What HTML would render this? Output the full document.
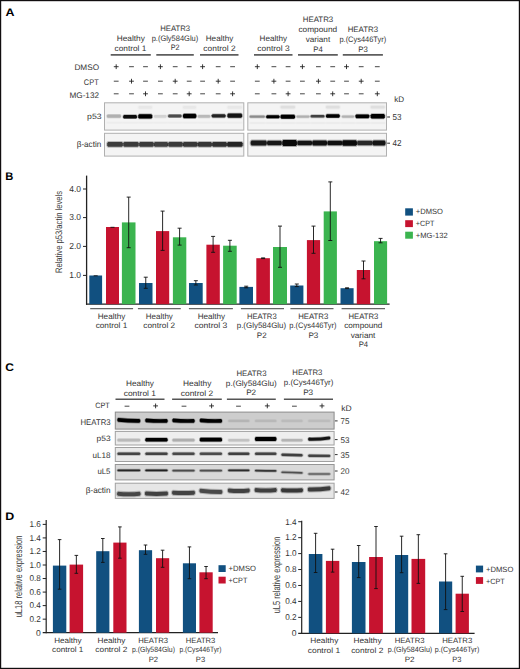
<!DOCTYPE html>
<html><head><meta charset="utf-8"><style>
html,body{margin:0;padding:0;background:#fff;}
body{width:520px;height:669px;overflow:hidden;}
svg{display:block;font-family:"Liberation Sans", sans-serif;}
text{text-rendering:geometricPrecision;}
</style></head><body>
<svg width="520" height="669" viewBox="0 0 520 669">
<defs>
<linearGradient id="vg" x1="0" y1="0" x2="0" y2="1"><stop offset="0" stop-color="#000" stop-opacity="0"/><stop offset="0.3" stop-color="#000" stop-opacity="1"/><stop offset="0.7" stop-color="#000" stop-opacity="1"/><stop offset="1" stop-color="#000" stop-opacity="0"/></linearGradient>
</defs>
<rect x="0" y="0" width="520" height="669" fill="#fff"/>
<text x="10.00" y="15.60" font-size="11" text-anchor="middle" textLength="8.99" lengthAdjust="spacingAndGlyphs" fill="#000" font-weight="bold">A</text>
<text x="130.80" y="41.25" font-size="7.92" text-anchor="middle" textLength="28.11" lengthAdjust="spacingAndGlyphs" fill="#333" font-weight="normal">Healthy</text>
<text x="130.45" y="50.70" font-size="7.92" text-anchor="middle" textLength="31.81" lengthAdjust="spacingAndGlyphs" fill="#333" font-weight="normal">control 1</text>
<text x="175.20" y="30.80" font-size="7.92" text-anchor="middle" textLength="29.91" lengthAdjust="spacingAndGlyphs" fill="#333" font-weight="normal">HEATR3</text>
<text x="174.95" y="40.50" font-size="7.92" text-anchor="middle" textLength="46.61" lengthAdjust="spacingAndGlyphs" fill="#333" font-weight="normal">p.(Gly584Glu)</text>
<text x="175.15" y="49.90" font-size="7.92" text-anchor="middle" textLength="8.81" lengthAdjust="spacingAndGlyphs" fill="#333" font-weight="normal">P2</text>
<text x="219.55" y="41.10" font-size="7.92" text-anchor="middle" textLength="27.61" lengthAdjust="spacingAndGlyphs" fill="#333" font-weight="normal">Healthy</text>
<text x="219.45" y="50.70" font-size="7.92" text-anchor="middle" textLength="32.21" lengthAdjust="spacingAndGlyphs" fill="#333" font-weight="normal">control 2</text>
<text x="273.30" y="41.25" font-size="7.92" text-anchor="middle" textLength="27.51" lengthAdjust="spacingAndGlyphs" fill="#333" font-weight="normal">Healthy</text>
<text x="273.45" y="50.70" font-size="7.92" text-anchor="middle" textLength="32.21" lengthAdjust="spacingAndGlyphs" fill="#333" font-weight="normal">control 3</text>
<text x="318.00" y="21.80" font-size="7.92" text-anchor="middle" textLength="30.51" lengthAdjust="spacingAndGlyphs" fill="#333" font-weight="normal">HEATR3</text>
<text x="317.80" y="31.50" font-size="7.92" text-anchor="middle" textLength="38.71" lengthAdjust="spacingAndGlyphs" fill="#333" font-weight="normal">compound</text>
<text x="317.90" y="41.80" font-size="7.92" text-anchor="middle" textLength="24.51" lengthAdjust="spacingAndGlyphs" fill="#333" font-weight="normal">variant</text>
<text x="318.05" y="52.20" font-size="7.92" text-anchor="middle" textLength="9.41" lengthAdjust="spacingAndGlyphs" fill="#333" font-weight="normal">P4</text>
<text x="362.85" y="31.90" font-size="7.92" text-anchor="middle" textLength="30.41" lengthAdjust="spacingAndGlyphs" fill="#333" font-weight="normal">HEATR3</text>
<text x="362.80" y="41.70" font-size="7.92" text-anchor="middle" textLength="46.71" lengthAdjust="spacingAndGlyphs" fill="#333" font-weight="normal">p.(Cys446Tyr)</text>
<text x="363.10" y="51.80" font-size="7.92" text-anchor="middle" textLength="9.51" lengthAdjust="spacingAndGlyphs" fill="#333" font-weight="normal">P3</text>
<line x1="110.7" y1="54.9" x2="150.8" y2="54.9" stroke="#5e5e5e" stroke-width="1.7"/>
<line x1="156.3" y1="54.9" x2="193.8" y2="54.9" stroke="#5e5e5e" stroke-width="1.7"/>
<line x1="200" y1="54.9" x2="238.5" y2="54.9" stroke="#5e5e5e" stroke-width="1.7"/>
<line x1="254" y1="54.9" x2="292.5" y2="54.9" stroke="#5e5e5e" stroke-width="1.7"/>
<line x1="298" y1="54.9" x2="337.8" y2="54.9" stroke="#5e5e5e" stroke-width="1.7"/>
<line x1="342.8" y1="54.9" x2="382.9" y2="54.9" stroke="#5e5e5e" stroke-width="1.7"/>
<text x="86.75" y="70.00" font-size="8.13" text-anchor="middle" textLength="24.63" lengthAdjust="spacingAndGlyphs" fill="#333" font-weight="normal">DMSO</text>
<text x="91.25" y="84.80" font-size="8.13" text-anchor="middle" textLength="14.83" lengthAdjust="spacingAndGlyphs" fill="#333" font-weight="normal">CPT</text>
<text x="84.25" y="97.90" font-size="8.13" text-anchor="middle" textLength="29.63" lengthAdjust="spacingAndGlyphs" fill="#333" font-weight="normal">MG-132</text>
<line x1="113.8" y1="66.7" x2="118.60000000000001" y2="66.7" stroke="#222" stroke-width="0.9"/>
<line x1="116.2" y1="64.3" x2="116.2" y2="69.10000000000001" stroke="#222" stroke-width="0.9"/>
<line x1="113.8" y1="81.2" x2="118.60000000000001" y2="81.2" stroke="#333" stroke-width="0.9"/>
<line x1="113.8" y1="93.8" x2="118.60000000000001" y2="93.8" stroke="#333" stroke-width="0.9"/>
<line x1="129.1" y1="66.7" x2="133.9" y2="66.7" stroke="#333" stroke-width="0.9"/>
<line x1="129.1" y1="81.2" x2="133.9" y2="81.2" stroke="#222" stroke-width="0.9"/>
<line x1="131.5" y1="78.8" x2="131.5" y2="83.60000000000001" stroke="#222" stroke-width="0.9"/>
<line x1="129.1" y1="93.8" x2="133.9" y2="93.8" stroke="#333" stroke-width="0.9"/>
<line x1="143.1" y1="66.7" x2="147.9" y2="66.7" stroke="#333" stroke-width="0.9"/>
<line x1="143.1" y1="81.2" x2="147.9" y2="81.2" stroke="#333" stroke-width="0.9"/>
<line x1="143.1" y1="93.8" x2="147.9" y2="93.8" stroke="#222" stroke-width="0.9"/>
<line x1="145.5" y1="91.39999999999999" x2="145.5" y2="96.2" stroke="#222" stroke-width="0.9"/>
<line x1="158.0" y1="66.7" x2="162.8" y2="66.7" stroke="#222" stroke-width="0.9"/>
<line x1="160.4" y1="64.3" x2="160.4" y2="69.10000000000001" stroke="#222" stroke-width="0.9"/>
<line x1="158.0" y1="81.2" x2="162.8" y2="81.2" stroke="#333" stroke-width="0.9"/>
<line x1="158.0" y1="93.8" x2="162.8" y2="93.8" stroke="#333" stroke-width="0.9"/>
<line x1="172.79999999999998" y1="66.7" x2="177.6" y2="66.7" stroke="#333" stroke-width="0.9"/>
<line x1="172.79999999999998" y1="81.2" x2="177.6" y2="81.2" stroke="#222" stroke-width="0.9"/>
<line x1="175.2" y1="78.8" x2="175.2" y2="83.60000000000001" stroke="#222" stroke-width="0.9"/>
<line x1="172.79999999999998" y1="93.8" x2="177.6" y2="93.8" stroke="#333" stroke-width="0.9"/>
<line x1="186.79999999999998" y1="66.7" x2="191.6" y2="66.7" stroke="#333" stroke-width="0.9"/>
<line x1="186.79999999999998" y1="81.2" x2="191.6" y2="81.2" stroke="#333" stroke-width="0.9"/>
<line x1="186.79999999999998" y1="93.8" x2="191.6" y2="93.8" stroke="#222" stroke-width="0.9"/>
<line x1="189.2" y1="91.39999999999999" x2="189.2" y2="96.2" stroke="#222" stroke-width="0.9"/>
<line x1="200.2" y1="66.7" x2="205.0" y2="66.7" stroke="#222" stroke-width="0.9"/>
<line x1="202.6" y1="64.3" x2="202.6" y2="69.10000000000001" stroke="#222" stroke-width="0.9"/>
<line x1="200.2" y1="81.2" x2="205.0" y2="81.2" stroke="#333" stroke-width="0.9"/>
<line x1="200.2" y1="93.8" x2="205.0" y2="93.8" stroke="#333" stroke-width="0.9"/>
<line x1="215.79999999999998" y1="66.7" x2="220.6" y2="66.7" stroke="#333" stroke-width="0.9"/>
<line x1="215.79999999999998" y1="81.2" x2="220.6" y2="81.2" stroke="#222" stroke-width="0.9"/>
<line x1="218.2" y1="78.8" x2="218.2" y2="83.60000000000001" stroke="#222" stroke-width="0.9"/>
<line x1="215.79999999999998" y1="93.8" x2="220.6" y2="93.8" stroke="#333" stroke-width="0.9"/>
<line x1="230.2" y1="66.7" x2="235.0" y2="66.7" stroke="#333" stroke-width="0.9"/>
<line x1="230.2" y1="81.2" x2="235.0" y2="81.2" stroke="#333" stroke-width="0.9"/>
<line x1="230.2" y1="93.8" x2="235.0" y2="93.8" stroke="#222" stroke-width="0.9"/>
<line x1="232.6" y1="91.39999999999999" x2="232.6" y2="96.2" stroke="#222" stroke-width="0.9"/>
<line x1="254.9" y1="66.7" x2="259.7" y2="66.7" stroke="#222" stroke-width="0.9"/>
<line x1="257.3" y1="64.3" x2="257.3" y2="69.10000000000001" stroke="#222" stroke-width="0.9"/>
<line x1="254.9" y1="81.2" x2="259.7" y2="81.2" stroke="#333" stroke-width="0.9"/>
<line x1="254.9" y1="93.8" x2="259.7" y2="93.8" stroke="#333" stroke-width="0.9"/>
<line x1="271.5" y1="66.7" x2="276.29999999999995" y2="66.7" stroke="#333" stroke-width="0.9"/>
<line x1="271.5" y1="81.2" x2="276.29999999999995" y2="81.2" stroke="#222" stroke-width="0.9"/>
<line x1="273.9" y1="78.8" x2="273.9" y2="83.60000000000001" stroke="#222" stroke-width="0.9"/>
<line x1="271.5" y1="93.8" x2="276.29999999999995" y2="93.8" stroke="#333" stroke-width="0.9"/>
<line x1="285.70000000000005" y1="66.7" x2="290.5" y2="66.7" stroke="#333" stroke-width="0.9"/>
<line x1="285.70000000000005" y1="81.2" x2="290.5" y2="81.2" stroke="#333" stroke-width="0.9"/>
<line x1="285.70000000000005" y1="93.8" x2="290.5" y2="93.8" stroke="#222" stroke-width="0.9"/>
<line x1="288.1" y1="91.39999999999999" x2="288.1" y2="96.2" stroke="#222" stroke-width="0.9"/>
<line x1="300.0" y1="66.7" x2="304.79999999999995" y2="66.7" stroke="#222" stroke-width="0.9"/>
<line x1="302.4" y1="64.3" x2="302.4" y2="69.10000000000001" stroke="#222" stroke-width="0.9"/>
<line x1="300.0" y1="81.2" x2="304.79999999999995" y2="81.2" stroke="#333" stroke-width="0.9"/>
<line x1="300.0" y1="93.8" x2="304.79999999999995" y2="93.8" stroke="#333" stroke-width="0.9"/>
<line x1="316.0" y1="66.7" x2="320.79999999999995" y2="66.7" stroke="#333" stroke-width="0.9"/>
<line x1="316.0" y1="81.2" x2="320.79999999999995" y2="81.2" stroke="#222" stroke-width="0.9"/>
<line x1="318.4" y1="78.8" x2="318.4" y2="83.60000000000001" stroke="#222" stroke-width="0.9"/>
<line x1="316.0" y1="93.8" x2="320.79999999999995" y2="93.8" stroke="#333" stroke-width="0.9"/>
<line x1="330.3" y1="66.7" x2="335.09999999999997" y2="66.7" stroke="#333" stroke-width="0.9"/>
<line x1="330.3" y1="81.2" x2="335.09999999999997" y2="81.2" stroke="#333" stroke-width="0.9"/>
<line x1="330.3" y1="93.8" x2="335.09999999999997" y2="93.8" stroke="#222" stroke-width="0.9"/>
<line x1="332.7" y1="91.39999999999999" x2="332.7" y2="96.2" stroke="#222" stroke-width="0.9"/>
<line x1="344.1" y1="66.7" x2="348.9" y2="66.7" stroke="#222" stroke-width="0.9"/>
<line x1="346.5" y1="64.3" x2="346.5" y2="69.10000000000001" stroke="#222" stroke-width="0.9"/>
<line x1="344.1" y1="81.2" x2="348.9" y2="81.2" stroke="#333" stroke-width="0.9"/>
<line x1="344.1" y1="93.8" x2="348.9" y2="93.8" stroke="#333" stroke-width="0.9"/>
<line x1="358.8" y1="66.7" x2="363.59999999999997" y2="66.7" stroke="#333" stroke-width="0.9"/>
<line x1="358.8" y1="81.2" x2="363.59999999999997" y2="81.2" stroke="#222" stroke-width="0.9"/>
<line x1="361.2" y1="78.8" x2="361.2" y2="83.60000000000001" stroke="#222" stroke-width="0.9"/>
<line x1="358.8" y1="93.8" x2="363.59999999999997" y2="93.8" stroke="#333" stroke-width="0.9"/>
<line x1="374.90000000000003" y1="66.7" x2="379.7" y2="66.7" stroke="#333" stroke-width="0.9"/>
<line x1="374.90000000000003" y1="81.2" x2="379.7" y2="81.2" stroke="#333" stroke-width="0.9"/>
<line x1="374.90000000000003" y1="93.8" x2="379.7" y2="93.8" stroke="#222" stroke-width="0.9"/>
<line x1="377.3" y1="91.39999999999999" x2="377.3" y2="96.2" stroke="#222" stroke-width="0.9"/>
<text x="399.20" y="101.80" font-size="8.03" text-anchor="middle" textLength="9.92" lengthAdjust="spacingAndGlyphs" fill="#333" font-weight="normal">kD</text>
<rect x="104.50" y="102.80" width="139.30" height="27.30" fill="#f4f4f4" stroke="#b0b0b0" stroke-width="1"/>
<rect x="104.50" y="133.30" width="139.30" height="22.80" fill="#f4f4f4" stroke="#b0b0b0" stroke-width="1"/>
<rect x="247.80" y="102.80" width="138.70" height="27.30" fill="#f4f4f4" stroke="#b0b0b0" stroke-width="1"/>
<rect x="247.80" y="133.30" width="138.70" height="22.80" fill="#f4f4f4" stroke="#b0b0b0" stroke-width="1"/>
<path d="M138.50,106.83 L139.40,106.10 Q145.25,106.10 151.10,106.10 L152.00,106.83 L152.00,107.97 L151.10,108.70 Q145.25,108.70 139.40,108.70 L138.50,107.97 Z" fill="#000" opacity="0.045" stroke="#000" stroke-opacity="0.32" stroke-width="2.00" stroke-linejoin="round"/>
<path d="M183.00,106.83 L183.90,106.10 Q189.50,106.10 195.10,106.10 L196.00,106.83 L196.00,107.97 L195.10,108.70 Q189.50,108.70 183.90,108.70 L183.00,107.97 Z" fill="#000" opacity="0.045" stroke="#000" stroke-opacity="0.32" stroke-width="2.00" stroke-linejoin="round"/>
<path d="M227.50,106.83 L228.40,106.10 Q234.75,106.10 241.10,106.10 L242.00,106.83 L242.00,107.97 L241.10,108.70 Q234.75,108.70 228.40,108.70 L227.50,107.97 Z" fill="#000" opacity="0.045" stroke="#000" stroke-opacity="0.32" stroke-width="2.00" stroke-linejoin="round"/>
<path d="M280.60,106.58 L281.50,105.80 Q287.80,105.80 294.10,105.80 L295.00,106.58 L295.00,107.82 L294.10,108.60 Q287.80,108.60 281.50,108.60 L280.60,107.82 Z" fill="#000" opacity="0.078" stroke="#000" stroke-opacity="0.32" stroke-width="2.00" stroke-linejoin="round"/>
<path d="M326.00,106.58 L326.90,105.80 Q332.85,105.80 338.80,105.80 L339.70,106.58 L339.70,107.82 L338.80,108.60 Q332.85,108.60 326.90,108.60 L326.00,107.82 Z" fill="#000" opacity="0.078" stroke="#000" stroke-opacity="0.32" stroke-width="2.00" stroke-linejoin="round"/>
<path d="M370.70,106.58 L371.60,105.80 Q377.75,105.80 383.90,105.80 L384.80,106.58 L384.80,107.82 L383.90,108.60 Q377.75,108.60 371.60,108.60 L370.70,107.82 Z" fill="#000" opacity="0.078" stroke="#000" stroke-opacity="0.32" stroke-width="2.00" stroke-linejoin="round"/>
<path d="M107.00,122.62 L107.90,122.40 Q114.50,122.40 121.10,122.40 L122.00,122.62 L122.00,122.98 L121.10,123.20 Q114.50,123.20 107.90,123.20 L107.00,122.98 Z" fill="#000" opacity="0.037" stroke="#000" stroke-opacity="0.32" stroke-width="1.60" stroke-linejoin="round"/>
<path d="M123.00,122.62 L123.90,122.40 Q130.50,122.40 137.10,122.40 L138.00,122.62 L138.00,122.98 L137.10,123.20 Q130.50,123.20 123.90,123.20 L123.00,122.98 Z" fill="#000" opacity="0.037" stroke="#000" stroke-opacity="0.32" stroke-width="1.60" stroke-linejoin="round"/>
<path d="M139.00,122.62 L139.90,122.40 Q146.00,122.40 152.10,122.40 L153.00,122.62 L153.00,122.98 L152.10,123.20 Q146.00,123.20 139.90,123.20 L139.00,122.98 Z" fill="#000" opacity="0.037" stroke="#000" stroke-opacity="0.32" stroke-width="1.60" stroke-linejoin="round"/>
<path d="M154.00,122.62 L154.90,122.40 Q160.50,122.40 166.10,122.40 L167.00,122.62 L167.00,122.98 L166.10,123.20 Q160.50,123.20 154.90,123.20 L154.00,122.98 Z" fill="#000" opacity="0.037" stroke="#000" stroke-opacity="0.32" stroke-width="1.60" stroke-linejoin="round"/>
<path d="M168.00,122.62 L168.90,122.40 Q175.00,122.40 181.10,122.40 L182.00,122.62 L182.00,122.98 L181.10,123.20 Q175.00,123.20 168.90,123.20 L168.00,122.98 Z" fill="#000" opacity="0.037" stroke="#000" stroke-opacity="0.32" stroke-width="1.60" stroke-linejoin="round"/>
<path d="M183.00,122.62 L183.90,122.40 Q190.00,122.40 196.10,122.40 L197.00,122.62 L197.00,122.98 L196.10,123.20 Q190.00,123.20 183.90,123.20 L183.00,122.98 Z" fill="#000" opacity="0.037" stroke="#000" stroke-opacity="0.32" stroke-width="1.60" stroke-linejoin="round"/>
<path d="M198.00,122.62 L198.90,122.40 Q204.50,122.40 210.10,122.40 L211.00,122.62 L211.00,122.98 L210.10,123.20 Q204.50,123.20 198.90,123.20 L198.00,122.98 Z" fill="#000" opacity="0.037" stroke="#000" stroke-opacity="0.32" stroke-width="1.60" stroke-linejoin="round"/>
<path d="M212.00,122.62 L212.90,122.40 Q219.00,122.40 225.10,122.40 L226.00,122.62 L226.00,122.98 L225.10,123.20 Q219.00,123.20 212.90,123.20 L212.00,122.98 Z" fill="#000" opacity="0.037" stroke="#000" stroke-opacity="0.32" stroke-width="1.60" stroke-linejoin="round"/>
<path d="M227.00,122.62 L227.90,122.40 Q234.50,122.40 241.10,122.40 L242.00,122.62 L242.00,122.98 L241.10,123.20 Q234.50,123.20 227.90,123.20 L227.00,122.98 Z" fill="#000" opacity="0.037" stroke="#000" stroke-opacity="0.32" stroke-width="1.60" stroke-linejoin="round"/>
<path d="M250.00,122.82 L250.90,122.60 Q257.50,122.60 264.10,122.60 L265.00,122.82 L265.00,123.18 L264.10,123.40 Q257.50,123.40 250.90,123.40 L250.00,123.18 Z" fill="#000" opacity="0.045" stroke="#000" stroke-opacity="0.32" stroke-width="1.60" stroke-linejoin="round"/>
<path d="M266.00,122.82 L266.90,122.60 Q273.00,122.60 279.10,122.60 L280.00,122.82 L280.00,123.18 L279.10,123.40 Q273.00,123.40 266.90,123.40 L266.00,123.18 Z" fill="#000" opacity="0.045" stroke="#000" stroke-opacity="0.32" stroke-width="1.60" stroke-linejoin="round"/>
<path d="M281.00,122.82 L281.90,122.60 Q288.00,122.60 294.10,122.60 L295.00,122.82 L295.00,123.18 L294.10,123.40 Q288.00,123.40 281.90,123.40 L281.00,123.18 Z" fill="#000" opacity="0.045" stroke="#000" stroke-opacity="0.32" stroke-width="1.60" stroke-linejoin="round"/>
<path d="M296.00,122.82 L296.90,122.60 Q303.00,122.60 309.10,122.60 L310.00,122.82 L310.00,123.18 L309.10,123.40 Q303.00,123.40 296.90,123.40 L296.00,123.18 Z" fill="#000" opacity="0.045" stroke="#000" stroke-opacity="0.32" stroke-width="1.60" stroke-linejoin="round"/>
<path d="M311.00,122.82 L311.90,122.60 Q318.00,122.60 324.10,122.60 L325.00,122.82 L325.00,123.18 L324.10,123.40 Q318.00,123.40 311.90,123.40 L311.00,123.18 Z" fill="#000" opacity="0.045" stroke="#000" stroke-opacity="0.32" stroke-width="1.60" stroke-linejoin="round"/>
<path d="M326.00,122.82 L326.90,122.60 Q333.00,122.60 339.10,122.60 L340.00,122.82 L340.00,123.18 L339.10,123.40 Q333.00,123.40 326.90,123.40 L326.00,123.18 Z" fill="#000" opacity="0.045" stroke="#000" stroke-opacity="0.32" stroke-width="1.60" stroke-linejoin="round"/>
<path d="M341.00,122.82 L341.90,122.60 Q348.00,122.60 354.10,122.60 L355.00,122.82 L355.00,123.18 L354.10,123.40 Q348.00,123.40 341.90,123.40 L341.00,123.18 Z" fill="#000" opacity="0.045" stroke="#000" stroke-opacity="0.32" stroke-width="1.60" stroke-linejoin="round"/>
<path d="M356.00,122.82 L356.90,122.60 Q363.00,122.60 369.10,122.60 L370.00,122.82 L370.00,123.18 L369.10,123.40 Q363.00,123.40 356.90,123.40 L356.00,123.18 Z" fill="#000" opacity="0.045" stroke="#000" stroke-opacity="0.32" stroke-width="1.60" stroke-linejoin="round"/>
<path d="M371.00,122.82 L371.90,122.60 Q378.00,122.60 384.10,122.60 L385.00,122.82 L385.00,123.18 L384.10,123.40 Q378.00,123.40 371.90,123.40 L371.00,123.18 Z" fill="#000" opacity="0.045" stroke="#000" stroke-opacity="0.32" stroke-width="1.60" stroke-linejoin="round"/>
<path d="M106.90,115.50 L107.80,114.60 Q113.95,114.60 120.10,114.60 L121.00,115.50 L121.00,116.90 L120.10,117.80 Q113.95,117.80 107.80,117.80 L106.90,116.90 Z" fill="#000" opacity="0.276" stroke="#000" stroke-opacity="0.32" stroke-width="1.40" stroke-linejoin="round"/>
<path d="M123.20,115.95 L124.10,115.00 Q130.05,115.00 136.00,115.00 L136.90,115.95 L136.90,117.45 L136.00,118.40 Q130.05,118.40 124.10,118.40 L123.20,117.45 Z" fill="#000" opacity="0.951" stroke="#000" stroke-opacity="0.32" stroke-width="1.40" stroke-linejoin="round"/>
<path d="M138.30,115.43 L139.20,114.20 Q145.25,114.20 151.30,114.20 L152.20,115.43 L152.20,117.37 L151.30,118.60 Q145.25,118.60 139.20,118.60 L138.30,117.37 Z" fill="#000" opacity="1.000" stroke="#000" stroke-opacity="0.32" stroke-width="1.40" stroke-linejoin="round"/>
<path d="M154.00,115.83 L154.90,115.10 Q160.25,115.10 165.60,115.10 L166.50,115.83 L166.50,116.97 L165.60,117.70 Q160.25,117.70 154.90,117.70 L154.00,116.97 Z" fill="#000" opacity="0.128" stroke="#000" stroke-opacity="0.32" stroke-width="1.40" stroke-linejoin="round"/>
<path d="M168.10,115.38 L169.00,114.60 Q174.80,114.60 180.60,114.60 L181.50,115.38 L181.50,116.62 L180.60,117.40 Q174.80,117.40 169.00,117.40 L168.10,116.62 Z" fill="#000" opacity="0.687" stroke="#000" stroke-opacity="0.32" stroke-width="1.40" stroke-linejoin="round"/>
<path d="M183.00,115.05 L183.90,113.85 Q189.65,113.85 195.40,113.85 L196.30,115.05 L196.30,116.95 L195.40,118.15 Q189.65,118.15 183.90,118.15 L183.00,116.95 Z" fill="#000" opacity="1.000" stroke="#000" stroke-opacity="0.32" stroke-width="1.40" stroke-linejoin="round"/>
<path d="M197.70,115.78 L198.60,115.00 Q204.00,115.00 209.40,115.00 L210.30,115.78 L210.30,117.02 L209.40,117.80 Q204.00,117.80 198.60,117.80 L197.70,117.02 Z" fill="#000" opacity="0.235" stroke="#000" stroke-opacity="0.32" stroke-width="1.40" stroke-linejoin="round"/>
<path d="M211.80,115.15 L212.70,114.20 Q218.65,114.20 224.60,114.20 L225.50,115.15 L225.50,116.65 L224.60,117.60 Q218.65,117.60 212.70,117.60 L211.80,116.65 Z" fill="#000" opacity="0.860" stroke="#000" stroke-opacity="0.32" stroke-width="1.40" stroke-linejoin="round"/>
<path d="M227.40,114.65 L228.30,113.45 Q234.75,113.45 241.20,113.45 L242.10,114.65 L242.10,116.55 L241.20,117.75 Q234.75,117.75 228.30,117.75 L227.40,116.55 Z" fill="#000" opacity="0.918" stroke="#000" stroke-opacity="0.32" stroke-width="1.40" stroke-linejoin="round"/>
<path d="M249.60,116.07 L250.50,115.40 Q257.20,115.40 263.90,115.40 L264.80,116.07 L264.80,117.13 L263.90,117.80 Q257.20,117.80 250.50,117.80 L249.60,117.13 Z" fill="#000" opacity="0.424" stroke="#000" stroke-opacity="0.32" stroke-width="1.40" stroke-linejoin="round"/>
<path d="M266.20,116.14 L267.10,115.30 Q272.85,115.30 278.60,115.30 L279.50,116.14 L279.50,117.46 L278.60,118.30 Q272.85,118.30 267.10,118.30 L266.20,117.46 Z" fill="#000" opacity="1.000" stroke="#000" stroke-opacity="0.32" stroke-width="1.40" stroke-linejoin="round"/>
<path d="M280.60,115.84 L281.50,114.75 Q287.80,114.75 294.10,114.75 L295.00,115.84 L295.00,117.56 L294.10,118.65 Q287.80,118.65 281.50,118.65 L280.60,117.56 Z" fill="#000" opacity="1.000" stroke="#000" stroke-opacity="0.32" stroke-width="1.40" stroke-linejoin="round"/>
<path d="M296.50,116.09 L297.40,115.45 Q303.00,115.45 308.60,115.45 L309.50,116.09 L309.50,117.11 L308.60,117.75 Q303.00,117.75 297.40,117.75 L296.50,117.11 Z" fill="#000" opacity="0.276" stroke="#000" stroke-opacity="0.32" stroke-width="1.40" stroke-linejoin="round"/>
<path d="M310.60,115.73 L311.50,115.00 Q317.55,115.00 323.60,115.00 L324.50,115.73 L324.50,116.87 L323.60,117.60 Q317.55,117.60 311.50,117.60 L310.60,116.87 Z" fill="#000" opacity="0.728" stroke="#000" stroke-opacity="0.32" stroke-width="1.40" stroke-linejoin="round"/>
<path d="M326.00,115.13 L326.90,114.15 Q332.85,114.15 338.80,114.15 L339.70,115.13 L339.70,116.67 L338.80,117.65 Q332.85,117.65 326.90,117.65 L326.00,116.67 Z" fill="#000" opacity="1.000" stroke="#000" stroke-opacity="0.32" stroke-width="1.40" stroke-linejoin="round"/>
<path d="M341.80,116.09 L342.70,115.45 Q347.95,115.45 353.20,115.45 L354.10,116.09 L354.10,117.11 L353.20,117.75 Q347.95,117.75 342.70,117.75 L341.80,117.11 Z" fill="#000" opacity="0.267" stroke="#000" stroke-opacity="0.32" stroke-width="1.40" stroke-linejoin="round"/>
<path d="M355.50,115.49 L356.40,114.45 Q362.40,114.45 368.40,114.45 L369.30,115.49 L369.30,117.11 L368.40,118.15 Q362.40,118.15 356.40,118.15 L355.50,117.11 Z" fill="#000" opacity="1.000" stroke="#000" stroke-opacity="0.32" stroke-width="1.40" stroke-linejoin="round"/>
<path d="M370.70,115.21 L371.60,113.95 Q377.75,113.95 383.90,113.95 L384.80,115.21 L384.80,117.19 L383.90,118.45 Q377.75,118.45 371.60,118.45 L370.70,117.19 Z" fill="#000" opacity="1.000" stroke="#000" stroke-opacity="0.32" stroke-width="1.40" stroke-linejoin="round"/>
<path d="M107.20,143.34 L108.10,142.00 Q115.00,142.00 121.90,142.00 L122.80,143.34 L122.80,145.46 L121.90,146.80 Q115.00,146.80 108.10,146.80 L107.20,145.46 Z" fill="#000" opacity="0.745" stroke="#000" stroke-opacity="0.32" stroke-width="2.00" stroke-linejoin="round"/>
<path d="M123.40,143.34 L124.30,142.00 Q131.00,142.00 137.70,142.00 L138.60,143.34 L138.60,145.46 L137.70,146.80 Q131.00,146.80 124.30,146.80 L123.40,145.46 Z" fill="#000" opacity="0.761" stroke="#000" stroke-opacity="0.32" stroke-width="2.00" stroke-linejoin="round"/>
<path d="M139.20,143.34 L140.10,142.00 Q146.40,142.00 152.70,142.00 L153.60,143.34 L153.60,145.46 L152.70,146.80 Q146.40,146.80 140.10,146.80 L139.20,145.46 Z" fill="#000" opacity="0.761" stroke="#000" stroke-opacity="0.32" stroke-width="2.00" stroke-linejoin="round"/>
<path d="M154.00,143.34 L154.90,142.00 Q161.00,142.00 167.10,142.00 L168.00,143.34 L168.00,145.46 L167.10,146.80 Q161.00,146.80 154.90,146.80 L154.00,145.46 Z" fill="#000" opacity="0.737" stroke="#000" stroke-opacity="0.32" stroke-width="2.00" stroke-linejoin="round"/>
<path d="M168.40,143.34 L169.30,142.00 Q175.50,142.00 181.70,142.00 L182.60,143.34 L182.60,145.46 L181.70,146.80 Q175.50,146.80 169.30,146.80 L168.40,145.46 Z" fill="#000" opacity="0.761" stroke="#000" stroke-opacity="0.32" stroke-width="2.00" stroke-linejoin="round"/>
<path d="M183.00,143.34 L183.90,142.00 Q190.20,142.00 196.50,142.00 L197.40,143.34 L197.40,145.46 L196.50,146.80 Q190.20,146.80 183.90,146.80 L183.00,145.46 Z" fill="#000" opacity="0.770" stroke="#000" stroke-opacity="0.32" stroke-width="2.00" stroke-linejoin="round"/>
<path d="M197.80,143.34 L198.70,142.00 Q204.80,142.00 210.90,142.00 L211.80,143.34 L211.80,145.46 L210.90,146.80 Q204.80,146.80 198.70,146.80 L197.80,145.46 Z" fill="#000" opacity="0.778" stroke="#000" stroke-opacity="0.32" stroke-width="2.00" stroke-linejoin="round"/>
<path d="M212.20,143.34 L213.10,142.00 Q219.50,142.00 225.90,142.00 L226.80,143.34 L226.80,145.46 L225.90,146.80 Q219.50,146.80 213.10,146.80 L212.20,145.46 Z" fill="#000" opacity="0.802" stroke="#000" stroke-opacity="0.32" stroke-width="2.00" stroke-linejoin="round"/>
<path d="M227.20,143.34 L228.10,142.00 Q234.90,142.00 241.70,142.00 L242.60,143.34 L242.60,145.46 L241.70,146.80 Q234.90,146.80 228.10,146.80 L227.20,145.46 Z" fill="#000" opacity="0.852" stroke="#000" stroke-opacity="0.32" stroke-width="2.00" stroke-linejoin="round"/>
<path d="M250.70,141.90 L251.60,140.50 Q258.70,140.50 265.80,140.50 L266.70,141.90 L266.70,144.10 L265.80,145.50 Q258.70,145.50 251.60,145.50 L250.70,144.10 Z" fill="#000" opacity="0.893" stroke="#000" stroke-opacity="0.32" stroke-width="2.00" stroke-linejoin="round"/>
<path d="M267.10,141.99 L268.00,140.70 Q274.40,140.70 280.80,140.70 L281.70,141.99 L281.70,144.01 L280.80,145.30 Q274.40,145.30 268.00,145.30 L267.10,144.01 Z" fill="#000" opacity="0.901" stroke="#000" stroke-opacity="0.32" stroke-width="2.00" stroke-linejoin="round"/>
<path d="M282.30,141.72 L283.20,140.10 Q289.60,140.10 296.00,140.10 L296.90,141.72 L296.90,144.28 L296.00,145.90 Q289.60,145.90 283.20,145.90 L282.30,144.28 Z" fill="#000" opacity="0.959" stroke="#000" stroke-opacity="0.32" stroke-width="2.00" stroke-linejoin="round"/>
<path d="M297.40,142.03 L298.30,140.80 Q304.75,140.80 311.20,140.80 L312.10,142.03 L312.10,143.97 L311.20,145.20 Q304.75,145.20 298.30,145.20 L297.40,143.97 Z" fill="#000" opacity="0.918" stroke="#000" stroke-opacity="0.32" stroke-width="2.00" stroke-linejoin="round"/>
<path d="M312.30,141.94 L313.20,140.60 Q319.70,140.60 326.20,140.60 L327.10,141.94 L327.10,144.06 L326.20,145.40 Q319.70,145.40 313.20,145.40 L312.30,144.06 Z" fill="#000" opacity="0.934" stroke="#000" stroke-opacity="0.32" stroke-width="2.00" stroke-linejoin="round"/>
<path d="M327.50,142.03 L328.40,140.80 Q334.85,140.80 341.30,140.80 L342.20,142.03 L342.20,143.97 L341.30,145.20 Q334.85,145.20 328.40,145.20 L327.50,143.97 Z" fill="#000" opacity="0.934" stroke="#000" stroke-opacity="0.32" stroke-width="2.00" stroke-linejoin="round"/>
<path d="M342.30,141.77 L343.20,140.20 Q349.60,140.20 356.00,140.20 L356.90,141.77 L356.90,144.23 L356.00,145.80 Q349.60,145.80 343.20,145.80 L342.30,144.23 Z" fill="#000" opacity="0.959" stroke="#000" stroke-opacity="0.32" stroke-width="2.00" stroke-linejoin="round"/>
<path d="M357.30,142.03 L358.20,140.80 Q364.90,140.80 371.60,140.80 L372.50,142.03 L372.50,143.97 L371.60,145.20 Q364.90,145.20 358.20,145.20 L357.30,143.97 Z" fill="#000" opacity="0.835" stroke="#000" stroke-opacity="0.32" stroke-width="2.00" stroke-linejoin="round"/>
<path d="M372.60,141.94 L373.50,140.60 Q379.05,140.60 384.60,140.60 L385.50,141.94 L385.50,144.06 L384.60,145.40 Q379.05,145.40 373.50,145.40 L372.60,144.06 Z" fill="#000" opacity="0.918" stroke="#000" stroke-opacity="0.32" stroke-width="2.00" stroke-linejoin="round"/>
<text x="94.30" y="119.20" font-size="7.81" text-anchor="middle" textLength="14.50" lengthAdjust="spacingAndGlyphs" fill="#333" font-weight="normal">p53</text>
<text x="89.00" y="147.10" font-size="8.35" text-anchor="middle" textLength="24.55" lengthAdjust="spacingAndGlyphs" fill="#333" font-weight="normal">β-actin</text>
<line x1="387.2" y1="117" x2="390" y2="117" stroke="#333" stroke-width="1"/>
<text x="397.10" y="119.90" font-size="8.77" text-anchor="middle" textLength="8.99" lengthAdjust="spacingAndGlyphs" fill="#333" font-weight="normal">53</text>
<line x1="387.2" y1="143.2" x2="390" y2="143.2" stroke="#333" stroke-width="1"/>
<text x="397.10" y="145.50" font-size="8.77" text-anchor="middle" textLength="8.99" lengthAdjust="spacingAndGlyphs" fill="#333" font-weight="normal">42</text>
<text x="9.35" y="180.00" font-size="11" text-anchor="middle" textLength="8.09" lengthAdjust="spacingAndGlyphs" fill="#000" font-weight="bold">B</text>
<line x1="86.6" y1="175.6" x2="86.6" y2="304.8" stroke="#222" stroke-width="1.3"/>
<line x1="86" y1="304.2" x2="389.6" y2="304.2" stroke="#222" stroke-width="1.3"/>
<line x1="83" y1="189" x2="86.6" y2="189" stroke="#222" stroke-width="1"/>
<text x="75.10" y="191.80" font-size="8.77" text-anchor="middle" textLength="11.79" lengthAdjust="spacingAndGlyphs" fill="#333" font-weight="normal">4.0</text>
<line x1="83" y1="217.6" x2="86.6" y2="217.6" stroke="#222" stroke-width="1"/>
<text x="75.10" y="220.40" font-size="8.77" text-anchor="middle" textLength="11.79" lengthAdjust="spacingAndGlyphs" fill="#333" font-weight="normal">3.0</text>
<line x1="83" y1="246.4" x2="86.6" y2="246.4" stroke="#222" stroke-width="1"/>
<text x="75.10" y="249.20" font-size="8.77" text-anchor="middle" textLength="11.79" lengthAdjust="spacingAndGlyphs" fill="#333" font-weight="normal">2.0</text>
<line x1="83" y1="275.4" x2="86.6" y2="275.4" stroke="#222" stroke-width="1"/>
<text x="75.10" y="278.20" font-size="8.77" text-anchor="middle" textLength="11.79" lengthAdjust="spacingAndGlyphs" fill="#333" font-weight="normal">1.0</text>
<text transform="translate(61.90,232.05) rotate(-90)" x="0" y="0" font-size="9.4" text-anchor="middle" textLength="82.15" lengthAdjust="spacingAndGlyphs" fill="#3a3a3a">Relative p53/actin levels</text>
<rect x="89.30" y="275.50" width="12.80" height="28.70" fill="#115080" />
<rect x="106.00" y="227.00" width="13.00" height="77.20" fill="#c6132f" />
<rect x="121.90" y="222.40" width="13.60" height="81.80" fill="#3bb44f" />
<rect x="139.00" y="283.00" width="13.50" height="21.20" fill="#115080" />
<rect x="156.00" y="231.10" width="13.20" height="73.10" fill="#c6132f" />
<rect x="172.90" y="237.30" width="13.40" height="66.90" fill="#3bb44f" />
<rect x="189.00" y="283.00" width="13.70" height="21.20" fill="#115080" />
<rect x="206.40" y="244.70" width="13.40" height="59.50" fill="#c6132f" />
<rect x="223.10" y="245.70" width="13.60" height="58.50" fill="#3bb44f" />
<rect x="239.40" y="286.90" width="13.60" height="17.30" fill="#115080" />
<rect x="256.30" y="258.20" width="13.60" height="46.00" fill="#c6132f" />
<rect x="273.00" y="247.00" width="14.00" height="57.20" fill="#3bb44f" />
<rect x="290.20" y="285.50" width="13.20" height="18.70" fill="#115080" />
<rect x="306.90" y="240.10" width="13.20" height="64.10" fill="#c6132f" />
<rect x="323.70" y="211.40" width="13.20" height="92.80" fill="#3bb44f" />
<rect x="340.50" y="288.20" width="13.10" height="16.00" fill="#115080" />
<rect x="356.80" y="270.00" width="13.40" height="34.20" fill="#c6132f" />
<rect x="374.00" y="241.20" width="13.10" height="63.00" fill="#3bb44f" />
<line x1="93.69999999999999" y1="275.8" x2="97.69999999999999" y2="275.8" stroke="#111" stroke-width="0.9"/>
<line x1="110.5" y1="227.3" x2="114.5" y2="227.3" stroke="#111" stroke-width="0.9"/>
<line x1="128.7" y1="197.1" x2="128.7" y2="247.7" stroke="#111" stroke-width="0.9"/>
<line x1="126.69999999999999" y1="197.1" x2="130.7" y2="197.1" stroke="#111" stroke-width="0.9"/>
<line x1="126.69999999999999" y1="247.7" x2="130.7" y2="247.7" stroke="#111" stroke-width="0.9"/>
<line x1="145.75" y1="277.2" x2="145.75" y2="288.3" stroke="#111" stroke-width="0.9"/>
<line x1="143.75" y1="277.2" x2="147.75" y2="277.2" stroke="#111" stroke-width="0.9"/>
<line x1="143.75" y1="288.3" x2="147.75" y2="288.3" stroke="#111" stroke-width="0.9"/>
<line x1="162.6" y1="211.1" x2="162.6" y2="250.4" stroke="#111" stroke-width="0.9"/>
<line x1="160.6" y1="211.1" x2="164.6" y2="211.1" stroke="#111" stroke-width="0.9"/>
<line x1="160.6" y1="250.4" x2="164.6" y2="250.4" stroke="#111" stroke-width="0.9"/>
<line x1="179.60000000000002" y1="228.2" x2="179.60000000000002" y2="245.1" stroke="#111" stroke-width="0.9"/>
<line x1="177.60000000000002" y1="228.2" x2="181.60000000000002" y2="228.2" stroke="#111" stroke-width="0.9"/>
<line x1="177.60000000000002" y1="245.1" x2="181.60000000000002" y2="245.1" stroke="#111" stroke-width="0.9"/>
<line x1="195.85" y1="280.7" x2="195.85" y2="285" stroke="#111" stroke-width="0.9"/>
<line x1="193.85" y1="280.7" x2="197.85" y2="280.7" stroke="#111" stroke-width="0.9"/>
<line x1="193.85" y1="285" x2="197.85" y2="285" stroke="#111" stroke-width="0.9"/>
<line x1="213.10000000000002" y1="236.4" x2="213.10000000000002" y2="252.3" stroke="#111" stroke-width="0.9"/>
<line x1="211.10000000000002" y1="236.4" x2="215.10000000000002" y2="236.4" stroke="#111" stroke-width="0.9"/>
<line x1="211.10000000000002" y1="252.3" x2="215.10000000000002" y2="252.3" stroke="#111" stroke-width="0.9"/>
<line x1="229.89999999999998" y1="240.3" x2="229.89999999999998" y2="251.3" stroke="#111" stroke-width="0.9"/>
<line x1="227.89999999999998" y1="240.3" x2="231.89999999999998" y2="240.3" stroke="#111" stroke-width="0.9"/>
<line x1="227.89999999999998" y1="251.3" x2="231.89999999999998" y2="251.3" stroke="#111" stroke-width="0.9"/>
<line x1="246.2" y1="286.2" x2="246.2" y2="287.8" stroke="#111" stroke-width="0.9"/>
<line x1="244.2" y1="286.2" x2="248.2" y2="286.2" stroke="#111" stroke-width="0.9"/>
<line x1="244.2" y1="287.8" x2="248.2" y2="287.8" stroke="#111" stroke-width="0.9"/>
<line x1="263.1" y1="257.9" x2="263.1" y2="258.6" stroke="#111" stroke-width="0.9"/>
<line x1="261.1" y1="257.9" x2="265.1" y2="257.9" stroke="#111" stroke-width="0.9"/>
<line x1="261.1" y1="258.6" x2="265.1" y2="258.6" stroke="#111" stroke-width="0.9"/>
<line x1="280.0" y1="226.1" x2="280.0" y2="267.3" stroke="#111" stroke-width="0.9"/>
<line x1="278.0" y1="226.1" x2="282.0" y2="226.1" stroke="#111" stroke-width="0.9"/>
<line x1="278.0" y1="267.3" x2="282.0" y2="267.3" stroke="#111" stroke-width="0.9"/>
<line x1="296.79999999999995" y1="284" x2="296.79999999999995" y2="286.6" stroke="#111" stroke-width="0.9"/>
<line x1="294.79999999999995" y1="284" x2="298.79999999999995" y2="284" stroke="#111" stroke-width="0.9"/>
<line x1="294.79999999999995" y1="286.6" x2="298.79999999999995" y2="286.6" stroke="#111" stroke-width="0.9"/>
<line x1="313.5" y1="226.1" x2="313.5" y2="253.3" stroke="#111" stroke-width="0.9"/>
<line x1="311.5" y1="226.1" x2="315.5" y2="226.1" stroke="#111" stroke-width="0.9"/>
<line x1="311.5" y1="253.3" x2="315.5" y2="253.3" stroke="#111" stroke-width="0.9"/>
<line x1="330.29999999999995" y1="181.9" x2="330.29999999999995" y2="240.5" stroke="#111" stroke-width="0.9"/>
<line x1="328.29999999999995" y1="181.9" x2="332.29999999999995" y2="181.9" stroke="#111" stroke-width="0.9"/>
<line x1="328.29999999999995" y1="240.5" x2="332.29999999999995" y2="240.5" stroke="#111" stroke-width="0.9"/>
<line x1="347.05" y1="287.8" x2="347.05" y2="288.6" stroke="#111" stroke-width="0.9"/>
<line x1="345.05" y1="287.8" x2="349.05" y2="287.8" stroke="#111" stroke-width="0.9"/>
<line x1="345.05" y1="288.6" x2="349.05" y2="288.6" stroke="#111" stroke-width="0.9"/>
<line x1="363.5" y1="261" x2="363.5" y2="278.8" stroke="#111" stroke-width="0.9"/>
<line x1="361.5" y1="261" x2="365.5" y2="261" stroke="#111" stroke-width="0.9"/>
<line x1="361.5" y1="278.8" x2="365.5" y2="278.8" stroke="#111" stroke-width="0.9"/>
<line x1="380.55" y1="238.4" x2="380.55" y2="242.8" stroke="#111" stroke-width="0.9"/>
<line x1="378.55" y1="238.4" x2="382.55" y2="238.4" stroke="#111" stroke-width="0.9"/>
<line x1="378.55" y1="242.8" x2="382.55" y2="242.8" stroke="#111" stroke-width="0.9"/>
<line x1="90.2" y1="308.6" x2="133.1" y2="308.6" stroke="#666" stroke-width="1.3"/>
<line x1="137.9" y1="308.6" x2="180.8" y2="308.6" stroke="#666" stroke-width="1.3"/>
<line x1="188.9" y1="308.6" x2="232.9" y2="308.6" stroke="#666" stroke-width="1.3"/>
<line x1="240.9" y1="308.6" x2="284" y2="308.6" stroke="#666" stroke-width="1.3"/>
<line x1="290.4" y1="308.6" x2="333.5" y2="308.6" stroke="#666" stroke-width="1.3"/>
<line x1="341.6" y1="308.6" x2="385" y2="308.6" stroke="#666" stroke-width="1.3"/>
<text x="111.55" y="318.80" font-size="7.92" text-anchor="middle" textLength="27.61" lengthAdjust="spacingAndGlyphs" fill="#333" font-weight="normal">Healthy</text>
<text x="111.45" y="328.30" font-size="7.92" text-anchor="middle" textLength="31.61" lengthAdjust="spacingAndGlyphs" fill="#333" font-weight="normal">control 1</text>
<text x="159.35" y="318.80" font-size="7.92" text-anchor="middle" textLength="27.01" lengthAdjust="spacingAndGlyphs" fill="#333" font-weight="normal">Healthy</text>
<text x="159.25" y="328.30" font-size="7.92" text-anchor="middle" textLength="31.81" lengthAdjust="spacingAndGlyphs" fill="#333" font-weight="normal">control 2</text>
<text x="211.40" y="318.80" font-size="7.92" text-anchor="middle" textLength="27.51" lengthAdjust="spacingAndGlyphs" fill="#333" font-weight="normal">Healthy</text>
<text x="210.90" y="328.30" font-size="7.92" text-anchor="middle" textLength="32.91" lengthAdjust="spacingAndGlyphs" fill="#333" font-weight="normal">control 3</text>
<text x="261.80" y="318.80" font-size="7.92" text-anchor="middle" textLength="29.71" lengthAdjust="spacingAndGlyphs" fill="#333" font-weight="normal">HEATR3</text>
<text x="261.45" y="328.30" font-size="7.92" text-anchor="middle" textLength="49.41" lengthAdjust="spacingAndGlyphs" fill="#333" font-weight="normal">p.(Gly584Glu)</text>
<text x="261.75" y="337.80" font-size="7.92" text-anchor="middle" textLength="9.81" lengthAdjust="spacingAndGlyphs" fill="#333" font-weight="normal">P2</text>
<text x="313.25" y="318.80" font-size="7.92" text-anchor="middle" textLength="30.21" lengthAdjust="spacingAndGlyphs" fill="#333" font-weight="normal">HEATR3</text>
<text x="312.90" y="328.30" font-size="7.92" text-anchor="middle" textLength="47.11" lengthAdjust="spacingAndGlyphs" fill="#333" font-weight="normal">p.(Cys446Tyr)</text>
<text x="313.40" y="337.80" font-size="7.92" text-anchor="middle" textLength="9.91" lengthAdjust="spacingAndGlyphs" fill="#333" font-weight="normal">P3</text>
<text x="363.40" y="318.80" font-size="7.92" text-anchor="middle" textLength="29.91" lengthAdjust="spacingAndGlyphs" fill="#333" font-weight="normal">HEATR3</text>
<text x="363.30" y="328.30" font-size="7.92" text-anchor="middle" textLength="38.11" lengthAdjust="spacingAndGlyphs" fill="#333" font-weight="normal">compound</text>
<text x="363.00" y="337.80" font-size="7.92" text-anchor="middle" textLength="24.71" lengthAdjust="spacingAndGlyphs" fill="#333" font-weight="normal">variant</text>
<text x="363.35" y="347.30" font-size="7.92" text-anchor="middle" textLength="9.41" lengthAdjust="spacingAndGlyphs" fill="#333" font-weight="normal">P4</text>
<rect x="405.20" y="208.30" width="7.70" height="7.30" fill="#115080" />
<rect x="405.20" y="220.20" width="7.70" height="6.90" fill="#c6132f" />
<rect x="405.20" y="231.70" width="7.70" height="7.00" fill="#3bb44f" />
<text x="429.45" y="214.30" font-size="7.7" text-anchor="middle" textLength="27.19" lengthAdjust="spacingAndGlyphs" fill="#333" font-weight="normal">+DMSO</text>
<text x="425.10" y="226.10" font-size="7.7" text-anchor="middle" textLength="18.49" lengthAdjust="spacingAndGlyphs" fill="#333" font-weight="normal">+CPT</text>
<text x="431.75" y="237.90" font-size="7.7" text-anchor="middle" textLength="31.79" lengthAdjust="spacingAndGlyphs" fill="#333" font-weight="normal">+MG-132</text>
<text x="9.65" y="370.90" font-size="11" text-anchor="middle" textLength="8.69" lengthAdjust="spacingAndGlyphs" fill="#000" font-weight="bold">C</text>
<text x="140.00" y="386.40" font-size="7.92" text-anchor="middle" textLength="27.91" lengthAdjust="spacingAndGlyphs" fill="#333" font-weight="normal">Healthy</text>
<text x="139.85" y="396.00" font-size="7.92" text-anchor="middle" textLength="32.21" lengthAdjust="spacingAndGlyphs" fill="#333" font-weight="normal">control 1</text>
<text x="197.20" y="386.30" font-size="7.92" text-anchor="middle" textLength="28.31" lengthAdjust="spacingAndGlyphs" fill="#333" font-weight="normal">Healthy</text>
<text x="196.95" y="395.60" font-size="7.92" text-anchor="middle" textLength="32.41" lengthAdjust="spacingAndGlyphs" fill="#333" font-weight="normal">control 2</text>
<text x="251.50" y="376.20" font-size="7.92" text-anchor="middle" textLength="30.11" lengthAdjust="spacingAndGlyphs" fill="#333" font-weight="normal">HEATR3</text>
<text x="251.35" y="385.60" font-size="7.92" text-anchor="middle" textLength="51.01" lengthAdjust="spacingAndGlyphs" fill="#333" font-weight="normal">p.(Gly584Glu)</text>
<text x="251.15" y="394.90" font-size="7.92" text-anchor="middle" textLength="10.01" lengthAdjust="spacingAndGlyphs" fill="#333" font-weight="normal">P2</text>
<text x="307.35" y="375.40" font-size="7.92" text-anchor="middle" textLength="30.01" lengthAdjust="spacingAndGlyphs" fill="#333" font-weight="normal">HEATR3</text>
<text x="308.60" y="385.00" font-size="7.92" text-anchor="middle" textLength="49.51" lengthAdjust="spacingAndGlyphs" fill="#333" font-weight="normal">p.(Cys446Tyr)</text>
<text x="308.15" y="394.70" font-size="7.92" text-anchor="middle" textLength="10.01" lengthAdjust="spacingAndGlyphs" fill="#333" font-weight="normal">P3</text>
<line x1="115.5" y1="399.2" x2="164.5" y2="399.2" stroke="#555" stroke-width="1.5"/>
<line x1="172.1" y1="399.2" x2="221.8" y2="399.2" stroke="#555" stroke-width="1.5"/>
<line x1="226.9" y1="399.2" x2="275.8" y2="399.2" stroke="#555" stroke-width="1.5"/>
<line x1="283.9" y1="399.2" x2="333" y2="399.2" stroke="#555" stroke-width="1.5"/>
<text x="102.50" y="408.10" font-size="7.76" text-anchor="middle" textLength="14.50" lengthAdjust="spacingAndGlyphs" fill="#333" font-weight="normal">CPT</text>
<line x1="124.6" y1="406.2" x2="129.4" y2="406.2" stroke="#333" stroke-width="0.9"/>
<line x1="153.2" y1="405.9" x2="158.0" y2="405.9" stroke="#222" stroke-width="0.9"/>
<line x1="155.6" y1="403.5" x2="155.6" y2="408.29999999999995" stroke="#222" stroke-width="0.9"/>
<line x1="181.6" y1="406.2" x2="186.4" y2="406.2" stroke="#333" stroke-width="0.9"/>
<line x1="209.2" y1="405.9" x2="214.0" y2="405.9" stroke="#222" stroke-width="0.9"/>
<line x1="211.6" y1="403.5" x2="211.6" y2="408.29999999999995" stroke="#222" stroke-width="0.9"/>
<line x1="236.1" y1="406.2" x2="240.9" y2="406.2" stroke="#333" stroke-width="0.9"/>
<line x1="264.90000000000003" y1="405.9" x2="269.7" y2="405.9" stroke="#222" stroke-width="0.9"/>
<line x1="267.3" y1="403.5" x2="267.3" y2="408.29999999999995" stroke="#222" stroke-width="0.9"/>
<line x1="292.0" y1="406.2" x2="296.79999999999995" y2="406.2" stroke="#333" stroke-width="0.9"/>
<line x1="319.6" y1="405.9" x2="324.4" y2="405.9" stroke="#222" stroke-width="0.9"/>
<line x1="322" y1="403.5" x2="322" y2="408.29999999999995" stroke="#222" stroke-width="0.9"/>
<text x="346.45" y="411.30" font-size="8.03" text-anchor="middle" textLength="10.42" lengthAdjust="spacingAndGlyphs" fill="#333" font-weight="normal">kD</text>
<rect x="115.30" y="412.10" width="218.80" height="17.00" fill="#cdcdcd" stroke="#8a8a8a" stroke-width="1"/>
<rect x="115.30" y="431.40" width="218.80" height="13.60" fill="#eeeeee" stroke="#a0a0a0" stroke-width="1"/>
<rect x="115.30" y="447.50" width="218.80" height="14.00" fill="#e9e9e9" stroke="#a0a0a0" stroke-width="1"/>
<rect x="115.30" y="464.50" width="218.80" height="15.40" fill="#d9d9d9" stroke="#959595" stroke-width="1"/>
<rect x="115.30" y="483.20" width="218.80" height="15.20" fill="#e6e6e6" stroke="#a0a0a0" stroke-width="1"/>
<path d="M117.40,419.06 L118.30,418.00 Q128.80,419.10 139.30,419.00 L140.20,420.06 L140.20,421.74 L139.30,422.80 Q128.80,422.90 118.30,421.80 L117.40,420.74 Z" fill="#000" opacity="1.000" stroke="#000" stroke-opacity="0.32" stroke-width="1.40" stroke-linejoin="round"/>
<path d="M145.30,419.61 L146.20,418.60 Q156.45,419.45 166.70,419.10 L167.60,420.11 L167.60,421.69 L166.70,422.70 Q156.45,423.05 146.20,422.20 L145.30,421.19 Z" fill="#000" opacity="1.000" stroke="#000" stroke-opacity="0.32" stroke-width="1.40" stroke-linejoin="round"/>
<path d="M172.40,419.61 L173.30,418.60 Q183.50,419.45 193.70,419.10 L194.60,420.11 L194.60,421.69 L193.70,422.70 Q183.50,423.05 173.30,422.20 L172.40,421.19 Z" fill="#000" opacity="1.000" stroke="#000" stroke-opacity="0.32" stroke-width="1.40" stroke-linejoin="round"/>
<path d="M199.80,419.61 L200.70,418.60 Q210.90,419.45 221.10,419.10 L222.00,420.11 L222.00,421.69 L221.10,422.70 Q210.90,423.05 200.70,422.20 L199.80,421.19 Z" fill="#000" opacity="1.000" stroke="#000" stroke-opacity="0.32" stroke-width="1.40" stroke-linejoin="round"/>
<path d="M228.20,420.42 L229.10,419.80 Q238.80,419.80 248.50,419.80 L249.40,420.42 L249.40,421.38 L248.50,422.00 Q238.80,422.00 229.10,422.00 L228.20,421.38 Z" fill="#000" opacity="0.112" stroke="#000" stroke-opacity="0.32" stroke-width="1.40" stroke-linejoin="round"/>
<path d="M255.00,420.42 L255.90,419.80 Q265.70,419.80 275.50,419.80 L276.40,420.42 L276.40,421.38 L275.50,422.00 Q265.70,422.00 255.90,422.00 L255.00,421.38 Z" fill="#000" opacity="0.098" stroke="#000" stroke-opacity="0.32" stroke-width="1.40" stroke-linejoin="round"/>
<path d="M281.40,420.42 L282.30,419.80 Q292.00,419.80 301.70,419.80 L302.60,420.42 L302.60,421.38 L301.70,422.00 Q292.00,422.00 282.30,422.00 L281.40,421.38 Z" fill="#000" opacity="0.083" stroke="#000" stroke-opacity="0.32" stroke-width="1.40" stroke-linejoin="round"/>
<path d="M308.20,420.42 L309.10,419.80 Q319.20,419.80 329.30,419.80 L330.20,420.42 L330.20,421.38 L329.30,422.00 Q319.20,422.00 309.10,422.00 L308.20,421.38 Z" fill="#000" opacity="0.073" stroke="#000" stroke-opacity="0.32" stroke-width="1.40" stroke-linejoin="round"/>
<path d="M117.40,439.58 L118.30,438.80 Q128.80,438.80 139.30,438.80 L140.20,439.58 L140.20,440.82 L139.30,441.60 Q128.80,441.60 118.30,441.60 L117.40,440.82 Z" fill="#000" opacity="0.218" stroke="#000" stroke-opacity="0.32" stroke-width="1.40" stroke-linejoin="round"/>
<path d="M145.30,439.01 L146.20,438.00 Q156.45,438.00 166.70,438.00 L167.60,439.01 L167.60,440.59 L166.70,441.60 Q156.45,441.60 146.20,441.60 L145.30,440.59 Z" fill="#000" opacity="1.000" stroke="#000" stroke-opacity="0.32" stroke-width="1.40" stroke-linejoin="round"/>
<path d="M172.40,439.58 L173.30,438.80 Q183.50,438.80 193.70,438.80 L194.60,439.58 L194.60,440.82 L193.70,441.60 Q183.50,441.60 173.30,441.60 L172.40,440.82 Z" fill="#000" opacity="0.261" stroke="#000" stroke-opacity="0.32" stroke-width="1.40" stroke-linejoin="round"/>
<path d="M199.80,438.76 L200.70,437.70 Q210.90,437.70 221.10,437.70 L222.00,438.76 L222.00,440.44 L221.10,441.50 Q210.90,441.50 200.70,441.50 L199.80,440.44 Z" fill="#000" opacity="1.000" stroke="#000" stroke-opacity="0.32" stroke-width="1.40" stroke-linejoin="round"/>
<path d="M228.20,439.63 L229.10,438.90 Q238.80,438.90 248.50,438.90 L249.40,439.63 L249.40,440.77 L248.50,441.50 Q238.80,441.50 229.10,441.50 L228.20,440.77 Z" fill="#000" opacity="0.185" stroke="#000" stroke-opacity="0.32" stroke-width="1.40" stroke-linejoin="round"/>
<path d="M255.00,438.08 L255.90,436.90 Q265.70,436.90 275.50,436.90 L276.40,438.08 L276.40,439.92 L275.50,441.10 Q265.70,441.10 255.90,441.10 L255.00,439.92 Z" fill="#000" opacity="1.000" stroke="#000" stroke-opacity="0.32" stroke-width="1.40" stroke-linejoin="round"/>
<path d="M281.40,439.63 L282.30,438.90 Q292.00,438.90 301.70,438.90 L302.60,439.63 L302.60,440.77 L301.70,441.50 Q292.00,441.50 282.30,441.50 L281.40,440.77 Z" fill="#000" opacity="0.244" stroke="#000" stroke-opacity="0.32" stroke-width="1.40" stroke-linejoin="round"/>
<path d="M308.20,438.50 L309.10,437.60 Q319.20,437.80 329.30,436.40 L330.20,437.30 L330.20,438.70 L329.30,439.60 Q319.20,441.00 309.10,440.80 L308.20,439.90 Z" fill="#000" opacity="0.916" stroke="#000" stroke-opacity="0.32" stroke-width="1.40" stroke-linejoin="round"/>
<path d="M117.40,453.27 L118.30,452.60 Q128.80,452.60 139.30,452.60 L140.20,453.27 L140.20,454.33 L139.30,455.00 Q128.80,455.00 118.30,455.00 L117.40,454.33 Z" fill="#000" opacity="0.700" stroke="#000" stroke-opacity="0.32" stroke-width="1.60" stroke-linejoin="round"/>
<path d="M145.30,453.27 L146.20,452.60 Q156.45,452.60 166.70,452.60 L167.60,453.27 L167.60,454.33 L166.70,455.00 Q156.45,455.00 146.20,455.00 L145.30,454.33 Z" fill="#000" opacity="0.708" stroke="#000" stroke-opacity="0.32" stroke-width="1.60" stroke-linejoin="round"/>
<path d="M172.40,453.27 L173.30,452.60 Q183.50,452.60 193.70,452.60 L194.60,453.27 L194.60,454.33 L193.70,455.00 Q183.50,455.00 173.30,455.00 L172.40,454.33 Z" fill="#000" opacity="0.682" stroke="#000" stroke-opacity="0.32" stroke-width="1.60" stroke-linejoin="round"/>
<path d="M199.80,453.27 L200.70,452.60 Q210.90,452.60 221.10,452.60 L222.00,453.27 L222.00,454.33 L221.10,455.00 Q210.90,455.00 200.70,455.00 L199.80,454.33 Z" fill="#000" opacity="0.674" stroke="#000" stroke-opacity="0.32" stroke-width="1.60" stroke-linejoin="round"/>
<path d="M228.20,453.27 L229.10,452.60 Q238.80,452.60 248.50,452.60 L249.40,453.27 L249.40,454.33 L248.50,455.00 Q238.80,455.00 229.10,455.00 L228.20,454.33 Z" fill="#000" opacity="0.725" stroke="#000" stroke-opacity="0.32" stroke-width="1.60" stroke-linejoin="round"/>
<path d="M255.00,453.27 L255.90,452.60 Q265.70,452.60 275.50,452.60 L276.40,453.27 L276.40,454.33 L275.50,455.00 Q265.70,455.00 255.90,455.00 L255.00,454.33 Z" fill="#000" opacity="0.708" stroke="#000" stroke-opacity="0.32" stroke-width="1.60" stroke-linejoin="round"/>
<path d="M281.40,454.23 L282.30,453.56 Q292.00,453.80 301.70,454.04 L302.60,454.71 L302.60,455.77 L301.70,456.44 Q292.00,456.20 282.30,455.96 L281.40,455.29 Z" fill="#000" opacity="0.725" stroke="#000" stroke-opacity="0.32" stroke-width="1.60" stroke-linejoin="round"/>
<path d="M308.20,455.18 L309.10,454.50 Q319.20,454.60 329.30,454.70 L330.20,455.37 L330.20,456.42 L329.30,457.10 Q319.20,457.00 309.10,456.90 L308.20,456.23 Z" fill="#000" opacity="0.708" stroke="#000" stroke-opacity="0.32" stroke-width="1.60" stroke-linejoin="round"/>
<path d="M117.40,470.03 L118.30,469.55 Q128.80,469.55 139.30,469.55 L140.20,470.03 L140.20,470.77 L139.30,471.25 Q128.80,471.25 118.30,471.25 L117.40,470.77 Z" fill="#000" opacity="0.816" stroke="#000" stroke-opacity="0.32" stroke-width="1.60" stroke-linejoin="round"/>
<path d="M145.30,470.03 L146.20,469.55 Q156.45,469.55 166.70,469.55 L167.60,470.03 L167.60,470.77 L166.70,471.25 Q156.45,471.25 146.20,471.25 L145.30,470.77 Z" fill="#000" opacity="0.843" stroke="#000" stroke-opacity="0.32" stroke-width="1.60" stroke-linejoin="round"/>
<path d="M172.40,470.23 L173.30,469.75 Q183.50,469.75 193.70,469.75 L194.60,470.23 L194.60,470.97 L193.70,471.45 Q183.50,471.45 173.30,471.45 L172.40,470.97 Z" fill="#000" opacity="0.650" stroke="#000" stroke-opacity="0.32" stroke-width="1.60" stroke-linejoin="round"/>
<path d="M199.80,470.23 L200.70,469.75 Q210.90,469.75 221.10,469.75 L222.00,470.23 L222.00,470.97 L221.10,471.45 Q210.90,471.45 200.70,471.45 L199.80,470.97 Z" fill="#000" opacity="0.631" stroke="#000" stroke-opacity="0.32" stroke-width="1.60" stroke-linejoin="round"/>
<path d="M228.20,470.03 L229.10,469.55 Q238.80,469.55 248.50,469.55 L249.40,470.03 L249.40,470.77 L248.50,471.25 Q238.80,471.25 229.10,471.25 L228.20,470.77 Z" fill="#000" opacity="0.793" stroke="#000" stroke-opacity="0.32" stroke-width="1.60" stroke-linejoin="round"/>
<path d="M255.00,470.28 L255.90,469.80 Q265.70,469.95 275.50,470.10 L276.40,470.58 L276.40,471.32 L275.50,471.80 Q265.70,471.65 255.90,471.50 L255.00,471.02 Z" fill="#000" opacity="0.747" stroke="#000" stroke-opacity="0.32" stroke-width="1.60" stroke-linejoin="round"/>
<path d="M281.40,471.89 L282.30,471.42 Q292.00,471.75 301.70,472.08 L302.60,472.56 L302.60,473.31 L301.70,473.78 Q292.00,473.45 282.30,473.12 L281.40,472.64 Z" fill="#000" opacity="0.631" stroke="#000" stroke-opacity="0.32" stroke-width="1.60" stroke-linejoin="round"/>
<path d="M308.20,473.63 L309.10,473.15 Q319.20,473.15 329.30,473.15 L330.20,473.63 L330.20,474.37 L329.30,474.85 Q319.20,474.85 309.10,474.85 L308.20,474.37 Z" fill="#000" opacity="0.562" stroke="#000" stroke-opacity="0.32" stroke-width="1.60" stroke-linejoin="round"/>
<path d="M117.10,492.92 L118.00,491.80 Q128.80,492.80 139.60,491.80 L140.50,492.92 L140.50,494.68 L139.60,495.80 Q128.80,496.80 118.00,495.80 L117.10,494.68 Z" fill="#000" opacity="0.696" stroke="#000" stroke-opacity="0.32" stroke-width="2.00" stroke-linejoin="round"/>
<path d="M145.00,492.62 L145.90,491.50 Q156.45,492.30 167.00,491.50 L167.90,492.62 L167.90,494.38 L167.00,495.50 Q156.45,496.30 145.90,495.50 L145.00,494.38 Z" fill="#000" opacity="0.713" stroke="#000" stroke-opacity="0.32" stroke-width="2.00" stroke-linejoin="round"/>
<path d="M172.10,491.82 L173.00,490.70 Q183.50,491.50 194.00,490.70 L194.90,491.82 L194.90,493.58 L194.00,494.70 Q183.50,495.50 173.00,494.70 L172.10,493.58 Z" fill="#000" opacity="0.704" stroke="#000" stroke-opacity="0.32" stroke-width="2.00" stroke-linejoin="round"/>
<path d="M199.50,489.82 L200.40,488.70 Q210.90,489.90 221.40,489.90 L222.30,491.02 L222.30,492.78 L221.40,493.90 Q210.90,493.90 200.40,492.70 L199.50,491.58 Z" fill="#000" opacity="0.678" stroke="#000" stroke-opacity="0.32" stroke-width="2.00" stroke-linejoin="round"/>
<path d="M227.90,489.52 L228.80,488.40 Q238.80,489.60 248.80,488.40 L249.70,489.52 L249.70,491.28 L248.80,492.40 Q238.80,493.60 228.80,492.40 L227.90,491.28 Z" fill="#000" opacity="0.713" stroke="#000" stroke-opacity="0.32" stroke-width="2.00" stroke-linejoin="round"/>
<path d="M254.70,489.12 L255.60,488.00 Q265.70,489.00 275.80,488.00 L276.70,489.12 L276.70,490.88 L275.80,492.00 Q265.70,493.00 255.60,492.00 L254.70,490.88 Z" fill="#000" opacity="0.722" stroke="#000" stroke-opacity="0.32" stroke-width="2.00" stroke-linejoin="round"/>
<path d="M281.10,489.32 L282.00,488.20 Q292.00,489.00 302.00,488.20 L302.90,489.32 L302.90,491.08 L302.00,492.20 Q292.00,493.00 282.00,492.20 L281.10,491.08 Z" fill="#000" opacity="0.757" stroke="#000" stroke-opacity="0.32" stroke-width="2.00" stroke-linejoin="round"/>
<path d="M307.90,488.62 L308.80,487.50 Q319.20,487.70 329.60,486.30 L330.50,487.42 L330.50,489.18 L329.60,490.30 Q319.20,491.70 308.80,491.50 L307.90,490.38 Z" fill="#000" opacity="0.739" stroke="#000" stroke-opacity="0.32" stroke-width="2.00" stroke-linejoin="round"/>
<text x="95.55" y="424.50" font-size="8.35" text-anchor="middle" textLength="30.05" lengthAdjust="spacingAndGlyphs" fill="#333" font-weight="normal">HEATR3</text>
<text x="103.55" y="441.20" font-size="7.81" text-anchor="middle" textLength="14.00" lengthAdjust="spacingAndGlyphs" fill="#333" font-weight="normal">p53</text>
<text x="101.50" y="457.50" font-size="8.13" text-anchor="middle" textLength="17.93" lengthAdjust="spacingAndGlyphs" fill="#333" font-weight="normal">uL18</text>
<text x="103.95" y="473.80" font-size="7.92" text-anchor="middle" textLength="13.01" lengthAdjust="spacingAndGlyphs" fill="#333" font-weight="normal">uL5</text>
<text x="98.10" y="492.60" font-size="8.35" text-anchor="middle" textLength="24.75" lengthAdjust="spacingAndGlyphs" fill="#333" font-weight="normal">β-actin</text>
<line x1="334.9" y1="420.9" x2="337.6" y2="420.9" stroke="#333" stroke-width="1"/>
<text x="345.00" y="423.80" font-size="8.35" text-anchor="middle" textLength="8.95" lengthAdjust="spacingAndGlyphs" fill="#333" font-weight="normal">75</text>
<line x1="334.9" y1="439.6" x2="337.6" y2="439.6" stroke="#333" stroke-width="1"/>
<text x="345.00" y="442.50" font-size="8.35" text-anchor="middle" textLength="8.95" lengthAdjust="spacingAndGlyphs" fill="#333" font-weight="normal">53</text>
<line x1="334.9" y1="454.6" x2="337.6" y2="454.6" stroke="#333" stroke-width="1"/>
<text x="345.00" y="457.50" font-size="8.35" text-anchor="middle" textLength="8.95" lengthAdjust="spacingAndGlyphs" fill="#333" font-weight="normal">35</text>
<line x1="334.9" y1="471" x2="337.6" y2="471" stroke="#333" stroke-width="1"/>
<text x="345.00" y="473.90" font-size="8.35" text-anchor="middle" textLength="8.95" lengthAdjust="spacingAndGlyphs" fill="#333" font-weight="normal">20</text>
<line x1="334.9" y1="492" x2="337.6" y2="492" stroke="#333" stroke-width="1"/>
<text x="345.00" y="494.90" font-size="8.35" text-anchor="middle" textLength="8.95" lengthAdjust="spacingAndGlyphs" fill="#333" font-weight="normal">42</text>
<text x="9.80" y="520.40" font-size="11" text-anchor="middle" textLength="8.99" lengthAdjust="spacingAndGlyphs" fill="#000" font-weight="bold">D</text>
<line x1="46.2" y1="520.0" x2="46.2" y2="633.3000000000001" stroke="#222" stroke-width="1.2"/>
<line x1="42.7" y1="632.7" x2="218" y2="632.7" stroke="#222" stroke-width="1.2"/>
<text x="38.40" y="635.50" font-size="8.56" text-anchor="middle" textLength="4.77" lengthAdjust="spacingAndGlyphs" fill="#333" font-weight="normal">0</text>
<line x1="42.7" y1="619.1600000000001" x2="46.2" y2="619.1600000000001" stroke="#222" stroke-width="1"/>
<text x="35.10" y="621.96" font-size="8.56" text-anchor="middle" textLength="11.37" lengthAdjust="spacingAndGlyphs" fill="#333" font-weight="normal">0.2</text>
<line x1="42.7" y1="605.62" x2="46.2" y2="605.62" stroke="#222" stroke-width="1"/>
<text x="35.10" y="608.42" font-size="8.56" text-anchor="middle" textLength="11.37" lengthAdjust="spacingAndGlyphs" fill="#333" font-weight="normal">0.4</text>
<line x1="42.7" y1="592.08" x2="46.2" y2="592.08" stroke="#222" stroke-width="1"/>
<text x="35.10" y="594.88" font-size="8.56" text-anchor="middle" textLength="11.37" lengthAdjust="spacingAndGlyphs" fill="#333" font-weight="normal">0.6</text>
<line x1="42.7" y1="578.5400000000001" x2="46.2" y2="578.5400000000001" stroke="#222" stroke-width="1"/>
<text x="35.10" y="581.34" font-size="8.56" text-anchor="middle" textLength="11.37" lengthAdjust="spacingAndGlyphs" fill="#333" font-weight="normal">0.8</text>
<line x1="42.7" y1="565.0" x2="46.2" y2="565.0" stroke="#222" stroke-width="1"/>
<text x="35.10" y="567.80" font-size="8.56" text-anchor="middle" textLength="11.37" lengthAdjust="spacingAndGlyphs" fill="#333" font-weight="normal">1.0</text>
<line x1="42.7" y1="551.46" x2="46.2" y2="551.46" stroke="#222" stroke-width="1"/>
<text x="35.10" y="554.26" font-size="8.56" text-anchor="middle" textLength="11.37" lengthAdjust="spacingAndGlyphs" fill="#333" font-weight="normal">1.2</text>
<line x1="42.7" y1="537.9200000000001" x2="46.2" y2="537.9200000000001" stroke="#222" stroke-width="1"/>
<text x="35.10" y="540.72" font-size="8.56" text-anchor="middle" textLength="11.37" lengthAdjust="spacingAndGlyphs" fill="#333" font-weight="normal">1.4</text>
<line x1="42.7" y1="524.38" x2="46.2" y2="524.38" stroke="#222" stroke-width="1"/>
<text x="35.10" y="527.18" font-size="8.56" text-anchor="middle" textLength="11.37" lengthAdjust="spacingAndGlyphs" fill="#333" font-weight="normal">1.6</text>
<rect x="52.90" y="565.60" width="13.40" height="67.10" fill="#115080" />
<rect x="69.60" y="564.60" width="13.50" height="68.10" fill="#c6132f" />
<rect x="96.20" y="551.20" width="13.20" height="81.50" fill="#115080" />
<rect x="113.30" y="542.60" width="13.20" height="90.10" fill="#c6132f" />
<rect x="138.90" y="550.20" width="13.20" height="82.50" fill="#115080" />
<rect x="156.00" y="558.20" width="13.20" height="74.50" fill="#c6132f" />
<rect x="182.90" y="563.30" width="13.10" height="69.40" fill="#115080" />
<rect x="199.40" y="572.30" width="13.30" height="60.40" fill="#c6132f" />
<line x1="59.599999999999994" y1="539.6" x2="59.599999999999994" y2="589.2" stroke="#111" stroke-width="0.9"/>
<line x1="57.8" y1="539.6" x2="61.39999999999999" y2="539.6" stroke="#111" stroke-width="0.9"/>
<line x1="57.8" y1="589.2" x2="61.39999999999999" y2="589.2" stroke="#111" stroke-width="0.9"/>
<line x1="76.35" y1="555.4" x2="76.35" y2="573.3" stroke="#111" stroke-width="0.9"/>
<line x1="74.55" y1="555.4" x2="78.14999999999999" y2="555.4" stroke="#111" stroke-width="0.9"/>
<line x1="74.55" y1="573.3" x2="78.14999999999999" y2="573.3" stroke="#111" stroke-width="0.9"/>
<line x1="102.80000000000001" y1="538.5" x2="102.80000000000001" y2="562.4" stroke="#111" stroke-width="0.9"/>
<line x1="101.00000000000001" y1="538.5" x2="104.60000000000001" y2="538.5" stroke="#111" stroke-width="0.9"/>
<line x1="101.00000000000001" y1="562.4" x2="104.60000000000001" y2="562.4" stroke="#111" stroke-width="0.9"/>
<line x1="119.9" y1="526.9" x2="119.9" y2="558.2" stroke="#111" stroke-width="0.9"/>
<line x1="118.10000000000001" y1="526.9" x2="121.7" y2="526.9" stroke="#111" stroke-width="0.9"/>
<line x1="118.10000000000001" y1="558.2" x2="121.7" y2="558.2" stroke="#111" stroke-width="0.9"/>
<line x1="145.5" y1="545" x2="145.5" y2="554.3" stroke="#111" stroke-width="0.9"/>
<line x1="143.7" y1="545" x2="147.3" y2="545" stroke="#111" stroke-width="0.9"/>
<line x1="143.7" y1="554.3" x2="147.3" y2="554.3" stroke="#111" stroke-width="0.9"/>
<line x1="162.6" y1="550.2" x2="162.6" y2="567.3" stroke="#111" stroke-width="0.9"/>
<line x1="160.79999999999998" y1="550.2" x2="164.4" y2="550.2" stroke="#111" stroke-width="0.9"/>
<line x1="160.79999999999998" y1="567.3" x2="164.4" y2="567.3" stroke="#111" stroke-width="0.9"/>
<line x1="189.45" y1="546.9" x2="189.45" y2="578.7" stroke="#111" stroke-width="0.9"/>
<line x1="187.64999999999998" y1="546.9" x2="191.25" y2="546.9" stroke="#111" stroke-width="0.9"/>
<line x1="187.64999999999998" y1="578.7" x2="191.25" y2="578.7" stroke="#111" stroke-width="0.9"/>
<line x1="206.05" y1="566.5" x2="206.05" y2="578.7" stroke="#111" stroke-width="0.9"/>
<line x1="204.25" y1="566.5" x2="207.85000000000002" y2="566.5" stroke="#111" stroke-width="0.9"/>
<line x1="204.25" y1="578.7" x2="207.85000000000002" y2="578.7" stroke="#111" stroke-width="0.9"/>
<rect x="218.50" y="565.20" width="7.20" height="6.80" fill="#115080" />
<rect x="218.50" y="576.70" width="7.20" height="6.80" fill="#c6132f" />
<text x="242.30" y="571.20" font-size="7.7" text-anchor="middle" textLength="27.49" lengthAdjust="spacingAndGlyphs" fill="#333" font-weight="normal">+DMSO</text>
<text x="237.95" y="583.10" font-size="7.7" text-anchor="middle" textLength="18.79" lengthAdjust="spacingAndGlyphs" fill="#333" font-weight="normal">+CPT</text>
<text x="67.95" y="642.50" font-size="7.7" text-anchor="middle" textLength="27.39" lengthAdjust="spacingAndGlyphs" fill="#333" font-weight="normal">Healthy</text>
<text x="67.75" y="652.20" font-size="7.7" text-anchor="middle" textLength="31.39" lengthAdjust="spacingAndGlyphs" fill="#333" font-weight="normal">control 1</text>
<text x="111.40" y="642.60" font-size="7.7" text-anchor="middle" textLength="27.89" lengthAdjust="spacingAndGlyphs" fill="#333" font-weight="normal">Healthy</text>
<text x="111.35" y="652.30" font-size="7.7" text-anchor="middle" textLength="31.99" lengthAdjust="spacingAndGlyphs" fill="#333" font-weight="normal">control 2</text>
<text x="153.10" y="642.80" font-size="7.7" text-anchor="middle" textLength="29.89" lengthAdjust="spacingAndGlyphs" fill="#333" font-weight="normal">HEATR3</text>
<text x="153.45" y="652.20" font-size="7.7" text-anchor="middle" textLength="42.99" lengthAdjust="spacingAndGlyphs" fill="#333" font-weight="normal">p.(Gly584Glu)</text>
<text x="153.35" y="661.80" font-size="7.7" text-anchor="middle" textLength="9.39" lengthAdjust="spacingAndGlyphs" fill="#333" font-weight="normal">P2</text>
<text x="200.60" y="642.80" font-size="7.7" text-anchor="middle" textLength="29.49" lengthAdjust="spacingAndGlyphs" fill="#333" font-weight="normal">HEATR3</text>
<text x="200.50" y="652.20" font-size="7.7" text-anchor="middle" textLength="42.09" lengthAdjust="spacingAndGlyphs" fill="#333" font-weight="normal">p.(Cys446Tyr)</text>
<text x="200.50" y="661.80" font-size="7.7" text-anchor="middle" textLength="9.29" lengthAdjust="spacingAndGlyphs" fill="#333" font-weight="normal">P3</text>
<text transform="translate(22.40,576.50) rotate(-90)" x="0" y="0" font-size="10.2" text-anchor="middle" textLength="81.72" lengthAdjust="spacingAndGlyphs" fill="#3a3a3a">uL18 relative expression</text>
<line x1="301.7" y1="520.7" x2="301.7" y2="633.9" stroke="#222" stroke-width="1.2"/>
<line x1="298.2" y1="633.3" x2="474.6" y2="633.3" stroke="#222" stroke-width="1.2"/>
<text x="294.20" y="636.10" font-size="8.56" text-anchor="middle" textLength="4.77" lengthAdjust="spacingAndGlyphs" fill="#333" font-weight="normal">0</text>
<line x1="298.2" y1="617.3599999999999" x2="301.7" y2="617.3599999999999" stroke="#222" stroke-width="1"/>
<text x="290.90" y="620.16" font-size="8.56" text-anchor="middle" textLength="11.37" lengthAdjust="spacingAndGlyphs" fill="#333" font-weight="normal">0.2</text>
<line x1="298.2" y1="601.42" x2="301.7" y2="601.42" stroke="#222" stroke-width="1"/>
<text x="290.90" y="604.22" font-size="8.56" text-anchor="middle" textLength="11.37" lengthAdjust="spacingAndGlyphs" fill="#333" font-weight="normal">0.4</text>
<line x1="298.2" y1="585.4799999999999" x2="301.7" y2="585.4799999999999" stroke="#222" stroke-width="1"/>
<text x="290.90" y="588.28" font-size="8.56" text-anchor="middle" textLength="11.37" lengthAdjust="spacingAndGlyphs" fill="#333" font-weight="normal">0.6</text>
<line x1="298.2" y1="569.54" x2="301.7" y2="569.54" stroke="#222" stroke-width="1"/>
<text x="290.90" y="572.34" font-size="8.56" text-anchor="middle" textLength="11.37" lengthAdjust="spacingAndGlyphs" fill="#333" font-weight="normal">0.8</text>
<line x1="298.2" y1="553.5999999999999" x2="301.7" y2="553.5999999999999" stroke="#222" stroke-width="1"/>
<text x="290.90" y="556.40" font-size="8.56" text-anchor="middle" textLength="11.37" lengthAdjust="spacingAndGlyphs" fill="#333" font-weight="normal">1.0</text>
<line x1="298.2" y1="537.66" x2="301.7" y2="537.66" stroke="#222" stroke-width="1"/>
<text x="290.90" y="540.46" font-size="8.56" text-anchor="middle" textLength="11.37" lengthAdjust="spacingAndGlyphs" fill="#333" font-weight="normal">1.2</text>
<line x1="298.2" y1="521.7199999999999" x2="301.7" y2="521.7199999999999" stroke="#222" stroke-width="1"/>
<text x="290.90" y="524.52" font-size="8.56" text-anchor="middle" textLength="11.37" lengthAdjust="spacingAndGlyphs" fill="#333" font-weight="normal">1.4</text>
<rect x="308.80" y="554.00" width="13.60" height="79.30" fill="#115080" />
<rect x="325.90" y="560.90" width="13.40" height="72.40" fill="#c6132f" />
<rect x="351.90" y="562.00" width="13.60" height="71.30" fill="#115080" />
<rect x="369.10" y="557.00" width="13.80" height="76.30" fill="#c6132f" />
<rect x="395.00" y="555.00" width="13.20" height="78.30" fill="#115080" />
<rect x="411.50" y="558.90" width="13.70" height="74.40" fill="#c6132f" />
<rect x="439.00" y="581.50" width="13.20" height="51.80" fill="#115080" />
<rect x="455.60" y="593.70" width="13.30" height="39.60" fill="#c6132f" />
<line x1="315.6" y1="533.3" x2="315.6" y2="572.5" stroke="#111" stroke-width="0.9"/>
<line x1="313.8" y1="533.3" x2="317.40000000000003" y2="533.3" stroke="#111" stroke-width="0.9"/>
<line x1="313.8" y1="572.5" x2="317.40000000000003" y2="572.5" stroke="#111" stroke-width="0.9"/>
<line x1="332.6" y1="549.2" x2="332.6" y2="572.1" stroke="#111" stroke-width="0.9"/>
<line x1="330.8" y1="549.2" x2="334.40000000000003" y2="549.2" stroke="#111" stroke-width="0.9"/>
<line x1="330.8" y1="572.1" x2="334.40000000000003" y2="572.1" stroke="#111" stroke-width="0.9"/>
<line x1="358.7" y1="545.5" x2="358.7" y2="577.6" stroke="#111" stroke-width="0.9"/>
<line x1="356.9" y1="545.5" x2="360.5" y2="545.5" stroke="#111" stroke-width="0.9"/>
<line x1="356.9" y1="577.6" x2="360.5" y2="577.6" stroke="#111" stroke-width="0.9"/>
<line x1="376.0" y1="526.5" x2="376.0" y2="588.6" stroke="#111" stroke-width="0.9"/>
<line x1="374.2" y1="526.5" x2="377.8" y2="526.5" stroke="#111" stroke-width="0.9"/>
<line x1="374.2" y1="588.6" x2="377.8" y2="588.6" stroke="#111" stroke-width="0.9"/>
<line x1="401.6" y1="536.2" x2="401.6" y2="572.7" stroke="#111" stroke-width="0.9"/>
<line x1="399.8" y1="536.2" x2="403.40000000000003" y2="536.2" stroke="#111" stroke-width="0.9"/>
<line x1="399.8" y1="572.7" x2="403.40000000000003" y2="572.7" stroke="#111" stroke-width="0.9"/>
<line x1="418.35" y1="534.7" x2="418.35" y2="583.4" stroke="#111" stroke-width="0.9"/>
<line x1="416.55" y1="534.7" x2="420.15000000000003" y2="534.7" stroke="#111" stroke-width="0.9"/>
<line x1="416.55" y1="583.4" x2="420.15000000000003" y2="583.4" stroke="#111" stroke-width="0.9"/>
<line x1="445.6" y1="553.8" x2="445.6" y2="609.6" stroke="#111" stroke-width="0.9"/>
<line x1="443.8" y1="553.8" x2="447.40000000000003" y2="553.8" stroke="#111" stroke-width="0.9"/>
<line x1="443.8" y1="609.6" x2="447.40000000000003" y2="609.6" stroke="#111" stroke-width="0.9"/>
<line x1="462.25" y1="576.3" x2="462.25" y2="611.5" stroke="#111" stroke-width="0.9"/>
<line x1="460.45" y1="576.3" x2="464.05" y2="576.3" stroke="#111" stroke-width="0.9"/>
<line x1="460.45" y1="611.5" x2="464.05" y2="611.5" stroke="#111" stroke-width="0.9"/>
<rect x="475.90" y="565.60" width="7.20" height="6.80" fill="#115080" />
<rect x="475.90" y="577.10" width="7.20" height="6.80" fill="#c6132f" />
<text x="499.70" y="571.60" font-size="7.7" text-anchor="middle" textLength="27.49" lengthAdjust="spacingAndGlyphs" fill="#333" font-weight="normal">+DMSO</text>
<text x="495.35" y="583.50" font-size="7.7" text-anchor="middle" textLength="18.79" lengthAdjust="spacingAndGlyphs" fill="#333" font-weight="normal">+CPT</text>
<text x="324.30" y="643.00" font-size="7.7" text-anchor="middle" textLength="28.09" lengthAdjust="spacingAndGlyphs" fill="#333" font-weight="normal">Healthy</text>
<text x="323.95" y="652.60" font-size="7.7" text-anchor="middle" textLength="32.39" lengthAdjust="spacingAndGlyphs" fill="#333" font-weight="normal">control 1</text>
<text x="367.50" y="643.00" font-size="7.7" text-anchor="middle" textLength="28.09" lengthAdjust="spacingAndGlyphs" fill="#333" font-weight="normal">Healthy</text>
<text x="367.25" y="652.60" font-size="7.7" text-anchor="middle" textLength="32.19" lengthAdjust="spacingAndGlyphs" fill="#333" font-weight="normal">control 2</text>
<text x="409.60" y="643.10" font-size="7.7" text-anchor="middle" textLength="29.89" lengthAdjust="spacingAndGlyphs" fill="#333" font-weight="normal">HEATR3</text>
<text x="410.00" y="652.20" font-size="7.7" text-anchor="middle" textLength="44.49" lengthAdjust="spacingAndGlyphs" fill="#333" font-weight="normal">p.(Gly584Glu)</text>
<text x="409.60" y="661.70" font-size="7.7" text-anchor="middle" textLength="9.89" lengthAdjust="spacingAndGlyphs" fill="#333" font-weight="normal">P2</text>
<text x="457.20" y="643.10" font-size="7.7" text-anchor="middle" textLength="30.09" lengthAdjust="spacingAndGlyphs" fill="#333" font-weight="normal">HEATR3</text>
<text x="457.10" y="652.20" font-size="7.7" text-anchor="middle" textLength="44.49" lengthAdjust="spacingAndGlyphs" fill="#333" font-weight="normal">p.(Cys446Tyr)</text>
<text x="456.95" y="661.70" font-size="7.7" text-anchor="middle" textLength="9.19" lengthAdjust="spacingAndGlyphs" fill="#333" font-weight="normal">P3</text>
<text transform="translate(279.80,575.05) rotate(-90)" x="0" y="0" font-size="10.2" text-anchor="middle" textLength="76.62" lengthAdjust="spacingAndGlyphs" fill="#3a3a3a">uL5 relative expression</text>
<rect x="0.6" y="0.6" width="518.8" height="667.8" fill="none" stroke="#110e0f" stroke-width="1.2"/>
</svg>
</body></html>
